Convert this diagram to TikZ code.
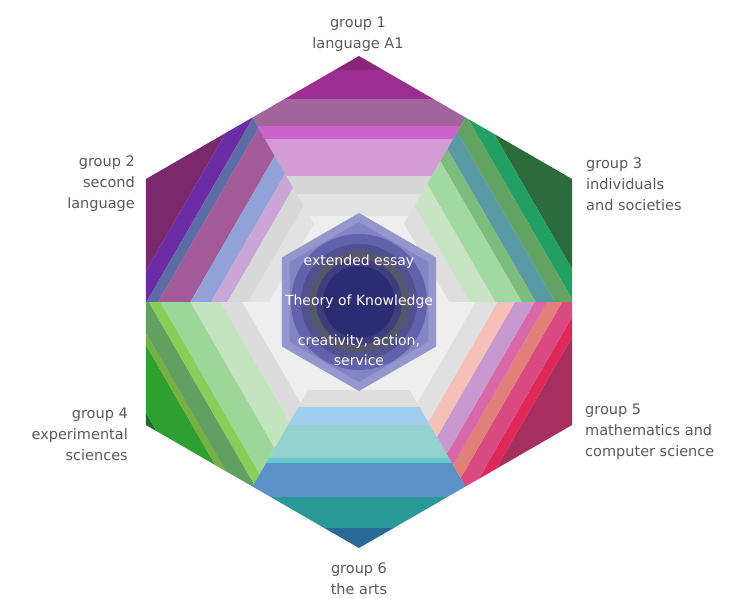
\documentclass[tikz,border=0pt]{standalone}
\usepackage{fontspec}
\setmainfont{DejaVu Sans}

% label colours
\definecolor{labelgray}{HTML}{5A5A5A}
% central part
\definecolor{corehexrim}{HTML}{9696CE}
\definecolor{corehexfill}{HTML}{8484C2}
\definecolor{coreblue}{HTML}{6262AC}
\definecolor{coremid}{HTML}{51518E}
\definecolor{coregray}{HTML}{56566A}
\definecolor{coredark}{HTML}{3E3E7C}
\definecolor{corenavy}{HTML}{2C2C72}

\tikzset{
  grouplabel/.style={text=labelgray, font=\fontsize{14.5}{21}\selectfont, inner sep=0pt},
  corelabel/.style={text=white, font=\fontsize{14}{20}\selectfont, align=center, inner sep=0pt}
}

\begin{document}
\begin{tikzpicture}[x=1pt,y=1pt]
\useasboundingbox (-359,-296) rectangle (379,302);

% backing hexagon
\fill[gray!12] (90:246) -- (150:246) -- (210:246) -- (270:246) -- (330:246) -- (30:246) -- cycle;

% group 1 top
\begin{scope}[rotate=0]
  \clip (0,0) -- (-106.5,184.5) -- (0,246) -- (106.5,184.5) -- cycle;
  \foreach \a/\b/\c in {0/14/8A2678, 14/43/9C2D92, 43/70/A2649C, 70/83/CC62CC, 83/120/D39BD3,
                        120/138/D6D6D6, 138/160/E2E2E2, 160/250/EEEEEE}
    {\definecolor{stripe}{HTML}{\c}
     \fill[stripe] (-130,246-\a) rectangle (130,246-\b);}
\end{scope}

% group 2 upper left
\begin{scope}[rotate=60]
  \clip (0,0) -- (-106.5,184.5) -- (0,246) -- (106.5,184.5) -- cycle;
  \foreach \a/\b/\c in {0/46/7A2A6C, 46/62/6C2CA6, 62/72/5C6CA4, 72/100/A25A98,
                        100/118/92A2D8, 118/132/CAA6D6, 132/150/D8D8D8,
                        150/168/E2E2E2, 168/250/EEEEEE}
    {\definecolor{stripe}{HTML}{\c}
     \fill[stripe] (-130,246-\a) rectangle (130,246-\b);}
\end{scope}

% group 4 lower left
\begin{scope}[rotate=120]
  \clip (0,0) -- (-106.5,184.5) -- (0,246) -- (106.5,184.5) -- cycle;
  \foreach \a/\b/\c in {0/6/1E6A2A, 6/40/2EA032, 40/46/78B040, 46/64/62A062,
                        64/74/8CCC58, 74/100/9ED69A, 100/126/C4E4C0,
                        126/145/DCDCDC, 145/250/EEEEEE}
    {\definecolor{stripe}{HTML}{\c}
     \fill[stripe] (-130,246-\a) rectangle (130,246-\b);}
\end{scope}

% group 6 bottom
\begin{scope}[rotate=180]
  \clip (0,0) -- (-106.5,184.5) -- (0,246) -- (106.5,184.5) -- cycle;
  \foreach \a/\b/\c in {0/20/2A6A98, 20/51/2A9896, 51/85/5A92C8, 85/90/62C8C8,
                        90/123/94D2D0, 123/141/A2CEEE, 141/158/DEDEDE,
                        158/250/EEEEEE}
    {\definecolor{stripe}{HTML}{\c}
     \fill[stripe] (-130,246-\a) rectangle (130,246-\b);}
\end{scope}

% group 5 lower right
\begin{scope}[rotate=240]
  \clip (0,0) -- (-106.5,184.5) -- (0,246) -- (106.5,184.5) -- cycle;
  \foreach \a/\b/\c in {0/44/A8305E, 44/54/E02858, 54/70/D84A80, 70/83/E08078,
                        83/94/D868A8, 94/111/C898D0, 111/126/F4C0B8,
                        126/145/E0E0E0, 145/250/EEEEEE}
    {\definecolor{stripe}{HTML}{\c}
     \fill[stripe] (-130,246-\a) rectangle (130,246-\b);}
\end{scope}

% group 3 upper right
\begin{scope}[rotate=300]
  \clip (0,0) -- (-106.5,184.5) -- (0,246) -- (106.5,184.5) -- cycle;
  \foreach \a/\b/\c in {0/45/2C6C3C, 45/60/22A064, 60/76/62A262, 76/93/5A9AA4,
                        93/105/7CBC7C, 105/128/A2D8A2, 128/150/C8E4C4,
                        150/168/DEDEDE, 168/250/EEEEEE}
    {\definecolor{stripe}{HTML}{\c}
     \fill[stripe] (-130,246-\a) rectangle (130,246-\b);}
\end{scope}

% core hexagon
\fill[corehexrim] (90:89) -- (150:89) -- (210:89) -- (270:89) -- (330:89) -- (30:89) -- cycle;
\fill[corehexfill] (90:80) -- (150:80) -- (210:80) -- (270:80) -- (330:80) -- (30:80) -- cycle;
% core disk
\fill[coreblue] (0,0) circle (68);
\fill[coremid] (0,0) circle (58);
\fill[coregray] (0,0) circle (50);
\fill[coredark] (0,0) circle (43);
\fill[corenavy] (0,0) circle (36);

% core texts
\node[corelabel] (essay) at (0,40) {extended essay};
\node[corelabel] (tok) at (0,0) {Theory of Knowledge};
\node[corelabel] (cas) at (0,-48) {creativity, action,\\service};

% group labels
\node[grouplabel, align=center] (grp1) at (-1,268) {group 1\\language A1};
\node[grouplabel, align=right, anchor=east] (grp2) at (-224,118) {group 2\\second\\language};
\node[grouplabel, align=left, anchor=west] (grp3) at (227,118) {group 3\\individuals\\and societies};
\node[grouplabel, align=right, anchor=east] (grp4) at (-231,-132) {group 4\\experimental\\sciences};
\node[grouplabel, align=left, anchor=west] (grp5) at (226,-130) {group 5\\mathematics and\\computer science};
\node[grouplabel, align=center] (grp6) at (0,-277) {group 6\\the arts};
\end{tikzpicture}
\end{document}
